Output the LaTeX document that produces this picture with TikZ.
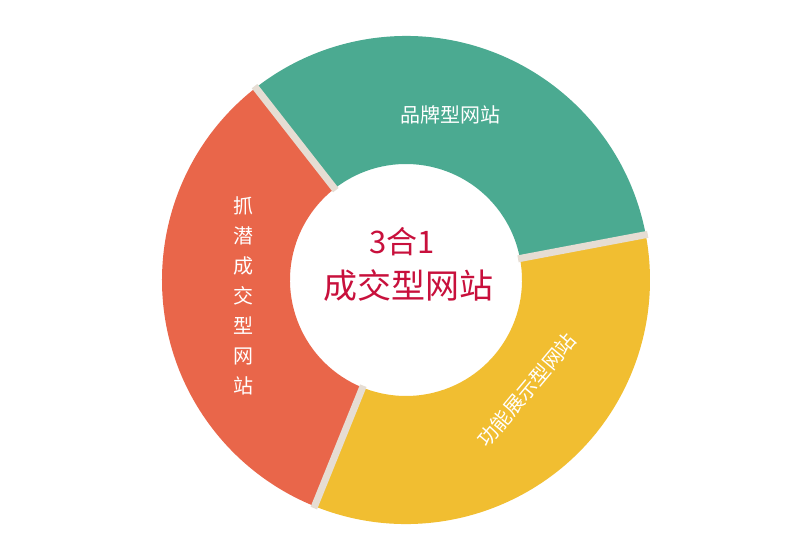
\documentclass[tikz,border=0pt]{standalone}
\usepackage{fontspec}
\newfontfamily\cjk{Noto Sans CJK SC}
\begin{document}
\begin{tikzpicture}[x=1pt,y=1pt]
\definecolor{teal1}{HTML}{4BAA91}
\definecolor{red1}{HTML}{E9664A}
\definecolor{yel1}{HTML}{F1BE31}
\definecolor{gap1}{HTML}{E6DDD3}
\definecolor{crim}{HTML}{C8103C}
\useasboundingbox (0,0) rectangle (800,554);
\fill[white] (0,0) rectangle (800,554);
\coordinate (c) at (406,274);
\def\R{244}\def\r{116}
\newcommand{\sector}[3]{\fill[#3] ([shift={(#1:\R)}]c) arc[start angle=#1,end angle=#2,radius=\R] -- ([shift={(#2:\r)}]c) arc[start angle=#2,end angle=#1,radius=\r] -- cycle;}
\sector{10.7}{128}{teal1}
\sector{128}{248}{red1}
\sector{248}{370.7}{yel1}
\foreach \a in {10.7,128,248}
  \draw[gap1,line width=7pt] ([shift={(\a:\r-2)}]c) -- ([shift={(\a:\R+2)}]c);
\tikzset{lab/.style={text=white,font=\cjk\fontsize{20}{24}\selectfont,inner sep=0pt}}
\node[lab] (t1) at (450,439) {品牌型网站};
\node[lab,align=center,font=\cjk\fontsize{20}{30}\selectfont] (t2) at (243,258) {抓\\潜\\成\\交\\型\\网\\站};
\node[lab,rotate=50] (t3) at (527,164) {功能展示型网站};
\node[text=crim,font=\cjk\fontsize{31}{34}\selectfont,inner sep=0pt] (m1) at (402,312) {3合1};
\node[text=crim,font=\cjk\fontsize{34}{38}\selectfont,inner sep=0pt] (m2) at (408,268) {成交型网站};
\end{tikzpicture}
\end{document}
